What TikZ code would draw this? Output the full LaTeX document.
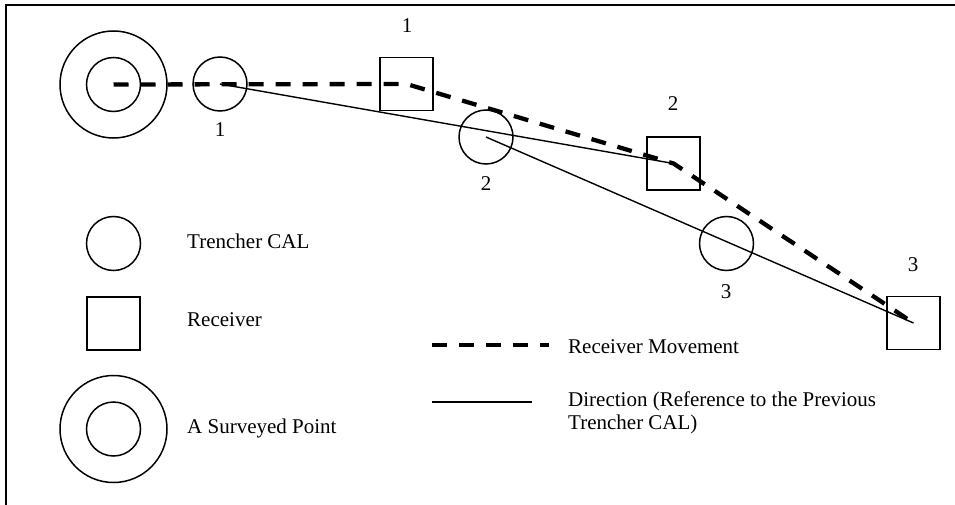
\documentclass[tikz,border=0pt]{standalone}
\usepackage{fontspec}
\setmainfont{Liberation Serif}
\begin{document}
\begin{tikzpicture}[x=1pt,y=-1pt,
  every node/.style={font=\fontsize{21}{23}\selectfont, inner sep=0pt},
  cal/.style={draw, circle, line width=1.5pt, minimum size=54pt},
  rcv/.style={draw, rectangle, line width=1.5pt, minimum size=53pt},
  outer/.style={draw, circle, line width=1.5pt, minimum size=107pt},
  move/.style={line width=4.3pt, dash pattern=on 15pt off 12pt},
  dirline/.style={line width=1.4pt},
  lbl/.style={anchor=base west, align=left}
]
\useasboundingbox (0,0) rectangle (955,505);
\draw[line width=2.2pt] (6,505) -- (6,5) -- (955,5);

% surveyed point
\node[outer] (sp) at (113.5,84.5) {};
\node[cal] (spi) at (113.5,84.5) {};
% trencher CALs
\node[cal] (c1) at (220,84) {};
\node[cal] (c2) at (486,137) {};
\node[cal] (c3) at (726.5,243.5) {};
% receivers
\node[rcv] (r1) at (406.5,84) {};
\node[rcv] (r2) at (673.5,163.5) {};
\node[rcv] (r3) at (913.5,323) {};

% labels
\node (l1a) at (407,26) {1};
\node (l1b) at (220,130) {1};
\node (l2a) at (673,104) {2};
\node (l2b) at (486,184) {2};
\node (l3a) at (913,265) {3};
\node (l3b) at (726,292) {3};

% connectors
\draw[move] (sp.center) -- (r1.center) -- (r2.center) -- (r3.center);
\draw[dirline] (c1.center) -- (r2.center);
\draw[dirline] (c2.center) -- (r3.center);

% legend
\node[cal] (lc) at (113.5,243.5) {};
\node[lbl] (tc) at (187,248) {Trencher CAL};
\node[rcv] (lr) at (113.5,323.5) {};
\node[lbl] (tr) at (187,326) {Receiver};
\node[outer] (lsp) at (113.5,429) {};
\node[cal] (lspi) at (113.5,429) {};
\node[lbl] (tsp) at (187,433) {A Surveyed Point};

\coordinate (m1) at (432,345);
\coordinate (m2) at (549,345);
\draw[move] (m1) -- (m2);
\node[lbl] (tm) at (568,353) {Receiver Movement};
\coordinate (d1) at (432,402);
\coordinate (d2) at (532,402);
\draw[dirline] (d1) -- (d2);
\node[lbl] (td) at (568,429) {Direction (Reference to the Previous\\Trencher CAL)};
\end{tikzpicture}
\end{document}
